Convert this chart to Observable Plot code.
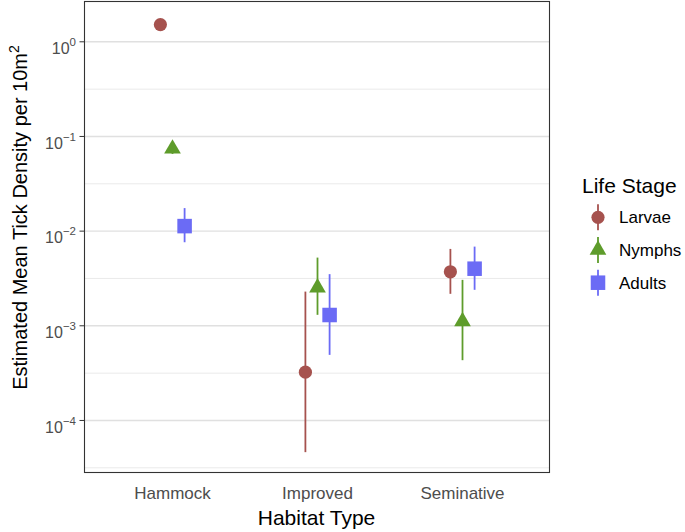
<!DOCTYPE html>
<html>
<head>
<meta charset="utf-8">
<script src="https://cdn.jsdelivr.net/npm/d3@7"></script>
<script src="https://cdn.jsdelivr.net/npm/@observablehq/plot@0.6"></script>
<style>
  html, body { margin: 0; padding: 0; background: #fff; }
  #chart { width: 685px; height: 532px; }
</style>
</head>
<body>
<div id="chart"></div>
<script>
// ---- data ----
const habitats = ["Hammock", "Improved", "Seminative"];
const stages = ["Larvae", "Nymphs", "Adults"];

const larvaeMean = [1.52, 3.24e-4, 3.72e-3];
const larvaeLo   = [1.45, 4.57e-5, 2.15e-3];
const larvaeHi   = [1.60, 2.27e-3, 6.41e-3];

const nymphMean  = [0.0741, 2.53e-3, 1.11e-3];
const nymphLo    = [0.0646, 1.29e-3, 4.28e-4];
const nymphHi    = [0.0850, 5.19e-3, 3.02e-3];

const adultMean  = [0.0113, 1.30e-3, 4.01e-3];
const adultLo    = [0.00754, 4.87e-4, 2.37e-3];
const adultHi    = [0.0173, 3.47e-3, 6.78e-3];

const yExponents = [0, -1, -2, -3, -4];
const yMinorExponents = [-0.5, -1.5, -2.5, -3.5, -4.5];

// ---- style ----
const stageColors = ["#A6524E", "#5E9C2B", "#6B6BF5"];
const stageSymbols = ["circle", "triangle", "square"];
const stageR = [6.6, 6.2, 8.2];
const d3Symbols = [d3.symbolCircle, d3.symbolTriangle, d3.symbolSquare];
const dodgePx = 12.1;

const series = [
  {mean: larvaeMean, lo: larvaeLo, hi: larvaeHi},
  {mean: nymphMean, lo: nymphLo, hi: nymphHi},
  {mean: adultMean, lo: adultLo, hi: adultHi}
];
const rows = [];
stages.forEach((s, si) => habitats.forEach((h, hi) => rows.push({
  habitat: h, stage: s, mean: series[si].mean[hi], lo: series[si].lo[hi], hi: series[si].hi[hi]
})));

const majors = yExponents.map(e => Math.pow(10, e));
const minors = yMinorExponents.map(e => Math.pow(10, e));

const marks = [
  Plot.ruleY(minors, {stroke: "#E8E8E8", strokeWidth: 0.9}),
  Plot.ruleY(majors, {stroke: "#E0E0E0", strokeWidth: 1.4})
];
stages.forEach((s, si) => {
  const d = rows.filter(r => r.stage === s);
  const dx = (si - 1) * dodgePx;
  marks.push(Plot.ruleX(d, {x: "habitat", y1: "lo", y2: "hi", stroke: stageColors[si], strokeWidth: 1.8, dx}));
  marks.push(Plot.dot(d, {x: "habitat", y: "mean", symbol: () => stageSymbols[si], r: stageR[si], fill: stageColors[si], stroke: "none", dx}));
});
marks.push(Plot.frame({stroke: "#333333", strokeWidth: 1.1}));
marks.push(Plot.axisY({ticks: majors, tickFormat: d => "10^" + Math.round(Math.log10(d)), tickSize: 4.5, tickPadding: 4, fontSize: 16, stroke: "#333333", fill: "#4D4D4D", label: null}));
marks.push(Plot.axisX({tickSize: 0, tickPadding: 14, fontSize: 17, fill: "#4D4D4D", label: null}));

const chart = Plot.plot({
  width: 685,
  height: 532,
  marginLeft: 84,
  marginRight: 136,
  marginTop: 1,
  marginBottom: 60,
  style: {fontFamily: "'Liberation Sans', Arial, sans-serif", background: "#fff", overflow: "visible"},
  x: {type: "point", domain: habitats, padding: 0.6},
  y: {type: "log", domain: [2.82e-5, 2.665]},
  symbol: {domain: stageSymbols, range: stageSymbols},
  marks
});
document.getElementById("chart").appendChild(chart);

const svg = d3.select(chart);

// superscripts on y tick labels
svg.selectAll("text").each(function() {
  const t = d3.select(this);
  const txt = this.textContent;
  const m = /^10\^(-?\d+)$/.exec(txt);
  if (!m) return;
  const exp = m[1].replace("-", "\u2212");
  t.text(null);
  t.attr("dy", "0.45em");
  t.append("tspan").text("10");
  t.append("tspan").attr("dy", -8).attr("font-size", 11.5).text(exp);
});

// y axis title
const yt = svg.append("text")
  .attr("transform", "translate(27,217.5) rotate(-90)")
  .attr("text-anchor", "middle")
  .attr("font-size", 20)
  .attr("fill", "#000");
yt.append("tspan").text("Estimated Mean Tick Density per 10m");
yt.append("tspan").attr("dy", -8).attr("font-size", 14).text("2");

// x axis title
svg.append("text")
  .attr("x", 316.5).attr("y", 525)
  .attr("text-anchor", "middle")
  .attr("font-size", 21)
  .attr("fill", "#000")
  .text("Habitat Type");

// legend
const lg = svg.append("g").attr("aria-label", "legend").attr("text-anchor", "start");
lg.append("text").attr("x", 582).attr("y", 192.7).attr("font-size", 21).attr("text-anchor", "start").attr("fill", "#000").text("Life Stage");
stages.forEach((s, si) => {
  const cy = 217.3 + si * 32.7;
  lg.append("line").attr("x1", 598).attr("x2", 598).attr("y1", cy - 13).attr("y2", cy + 13)
    .attr("stroke", stageColors[si]).attr("stroke-width", 1.8);
  lg.append("path").attr("transform", `translate(598,${cy})`)
    .attr("d", d3.symbol(d3Symbols[si], Math.PI * stageR[si] * stageR[si])())
    .attr("fill", stageColors[si]);
  lg.append("text").attr("x", 619).attr("y", cy + 6).attr("font-size", 17).attr("text-anchor", "start").attr("fill", "#000").text(s);
});
</script>
</body>
</html>
